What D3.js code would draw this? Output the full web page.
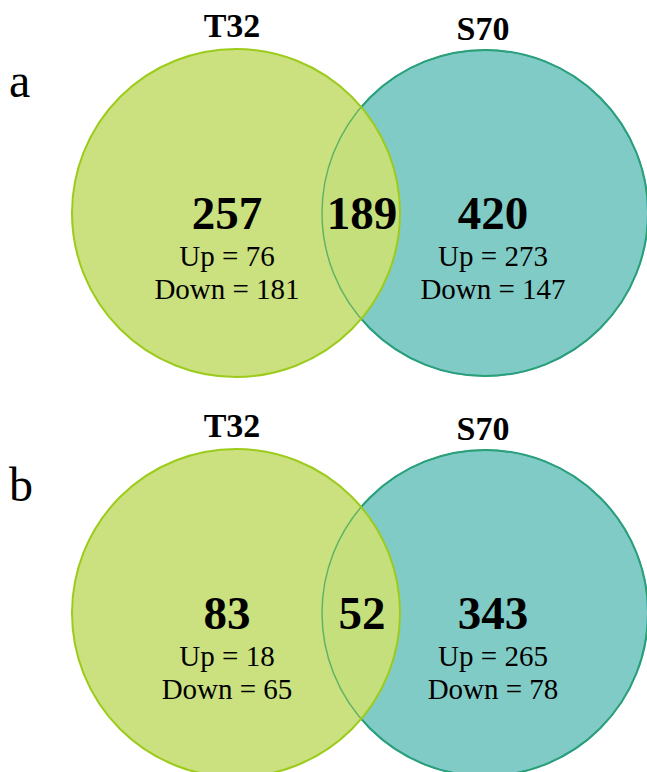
<!DOCTYPE html>
<html>
<head>
<meta charset="utf-8">
<script src="https://cdn.jsdelivr.net/npm/d3@7"></script>
<style>
  html, body { margin: 0; padding: 0; background: #ffffff; }
  svg { display: block; }
  text { font-family: "Liberation Serif", "Times New Roman", serif; fill: #000; }
</style>
</head>
<body>
<svg id="chart" width="647" height="772"></svg>
<script>
// Two-set Venn diagrams of differentially expressed genes
const panels     = ["a", "b"];
const setNames   = ["T32", "S70"];
const onlyT32    = [257, 83];
const shared     = [189, 52];
const onlyS70    = [420, 343];
const upT32      = [76, 18];
const downT32    = [181, 65];
const upS70      = [273, 265];
const downS70    = [147, 78];

const svg = d3.select("#chart");
const W = 647, H = 772;

// Layout scales: circle centres per set / per panel, and label columns per region
const xSet    = d3.scalePoint().domain(setNames).range([236, 485]);
const yPanel  = d3.scalePoint().domain(panels).range([213, 613]);
const xRegion = d3.scalePoint().domain(["only0", "both", "only1"]).range([227, 493]);
const radius  = 164;

const fills   = { T32: "#c9e07a", S70: "#80cbc5" };
const strokes = { T32: "#9ccb1c", S70: "#16999a" };

panels.forEach((p, i) => {
  const cy = yPanel(p);
  const g = svg.append("g").attr("class", "panel-" + p);

  // S70 circle underneath
  g.append("circle")
    .attr("cx", xSet("S70")).attr("cy", cy).attr("r", radius - 1)
    .attr("fill", fills.S70)
    .attr("stroke", strokes.S70).attr("stroke-width", 2);

  // T32 circle over it
  g.append("circle")
    .attr("cx", xSet("T32")).attr("cy", cy).attr("r", radius)
    .attr("fill", fills.T32).attr("fill-opacity", 0.96);

  // S70 outline faintly showing through the overlap
  g.append("circle")
    .attr("cx", xSet("S70")).attr("cy", cy).attr("r", radius - 1)
    .attr("fill", "none")
    .attr("stroke", "#3aa45e").attr("stroke-opacity", 0.75).attr("stroke-width", 1.4);

  g.append("circle")
    .attr("cx", xSet("T32")).attr("cy", cy).attr("r", radius)
    .attr("fill", "none")
    .attr("stroke", strokes.T32).attr("stroke-width", 2);

  // Set names above the circles
  g.selectAll("text.setname")
    .data(setNames)
    .join("text")
    .attr("class", "setname")
    .attr("x", d => xSet(d) + (d === "T32" ? -4 : -2))
    .attr("y", (d, k) => cy - radius - 12 + k * 3)
    .attr("text-anchor", "middle")
    .attr("font-size", 34)
    .attr("font-weight", "bold")
    .text(d => d);

  // Panel letter
  g.append("text")
    .attr("x", 9)
    .attr("y", cy - 116 + (p === "b" ? 4 : 0))
    .attr("font-size", 48)
    .text(p);

  // Region counts
  const regions = [
    { key: "only0", total: onlyT32[i], up: upT32[i], down: downT32[i] },
    { key: "both",  total: shared[i] },
    { key: "only1", total: onlyS70[i], up: upS70[i], down: downS70[i] }
  ];

  regions.forEach(r => {
    const x = xRegion(r.key) + (r.key === "both" ? 2 : 0);
    g.append("text")
      .attr("x", x).attr("y", cy + 16)
      .attr("text-anchor", "middle")
      .attr("font-size", 47)
      .attr("font-weight", "bold")
      .text(r.total);
    if (r.up !== undefined) {
      g.append("text")
        .attr("x", x).attr("y", cy + 53)
        .attr("text-anchor", "middle")
        .attr("font-size", 29)
        .text("Up = " + r.up);
      g.append("text")
        .attr("x", x).attr("y", cy + 86)
        .attr("text-anchor", "middle")
        .attr("font-size", 29)
        .text("Down = " + r.down);
    }
  });
});
</script>
</body>
</html>
